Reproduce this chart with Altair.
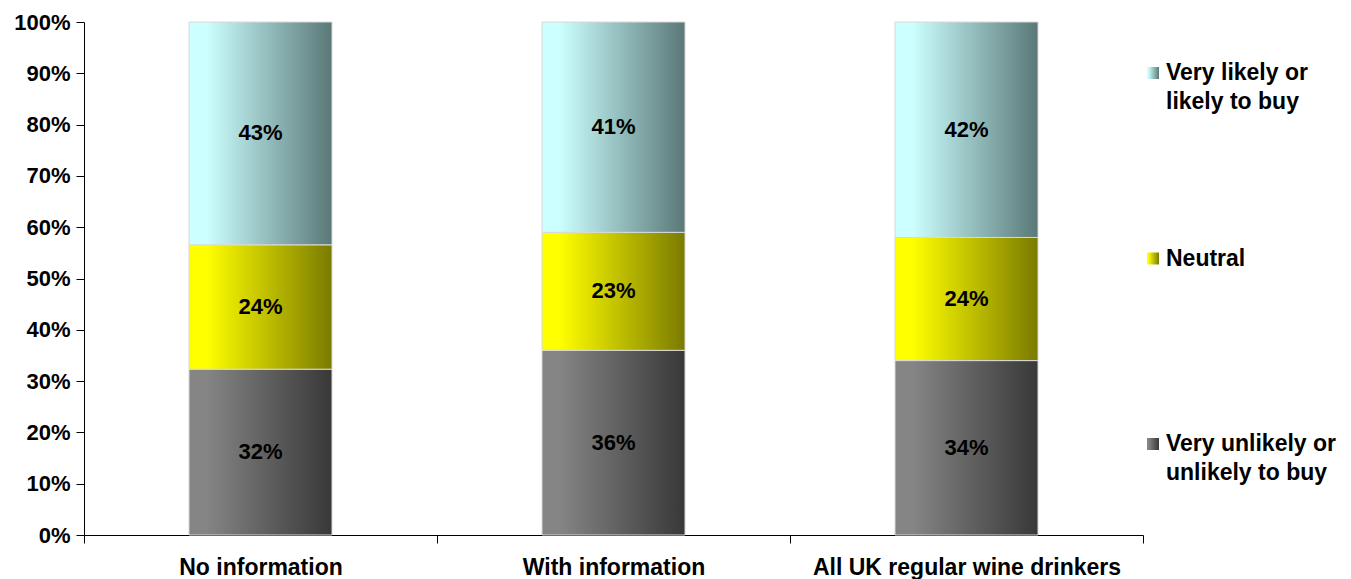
import altair as alt
import pandas as pd

# Survey groups and response shares (%)
groups = ["No information", "With information", "All UK regular wine drinkers"]
series = ["Very unlikely or unlikely to buy", "Neutral", "Very likely or likely to buy"]
unlikely = [32, 36, 34]
neutral = [24, 23, 24]
likely = [43, 41, 42]

# Legend entries, top to bottom, with their two-line labels
legend_series = ["Very likely or likely to buy", "Neutral", "Very unlikely or unlikely to buy"]
legend_labels = ["Very likely or\nlikely to buy", "Neutral", "Very unlikely or\nunlikely to buy"]

FONT = "Liberation Sans"

# Horizontal shading for each response band (light on the left, dark on the right)
def shade(light, dark):
    return alt.LinearGradient(
        gradient="linear",
        x1=0, x2=1, y1=0, y2=0,
        stops=[
            alt.GradientStop(offset=0, color=light),
            alt.GradientStop(offset=0.12, color=light),
            alt.GradientStop(offset=1, color=dark),
        ],
    )

fills = {
    "Very unlikely or unlikely to buy": shade("#858585", "#383838"),
    "Neutral": shade("#FFFF00", "#7A7A00"),
    "Very likely or likely to buy": shade("#CCFFFF", "#5A7878"),
}

rows = []
for i, g in enumerate(groups):
    for k, (s, vals) in enumerate(zip(series, [unlikely, neutral, likely])):
        rows.append({"group": g, "series": s, "order": k, "value": vals[i]})
df = pd.DataFrame(rows)

base = alt.Chart(df).transform_stack(
    stack="value",
    as_=["y0", "y1"],
    groupby=["group"],
    sort=[alt.SortField("order", order="ascending")],
    offset="normalize",
).transform_calculate(
    mid="(datum.y0 + datum.y1) / 2",
    label="datum.value + '%'",
)

x_enc = alt.X(
    "group:N",
    sort=groups,
    scale=alt.Scale(paddingInner=0, paddingOuter=0),
    axis=alt.Axis(
        title=None,
        labelAngle=0,
        labelLimit=0,
        tickBand="extent",
        tickSize=8,
        tickColor="black",
        domainColor="black",
        labelPadding=13,
        labelFont=FONT,
        labelFontSize=23,
        labelFontWeight="bold",
        labelColor="black",
    ),
)

y_axis = alt.Axis(
    title=None,
    format=".0%",
    values=[i / 10 for i in range(11)],
    grid=False,
    tickSize=8,
    tickColor="black",
    domainColor="black",
    labelPadding=6,
    labelFont=FONT,
    labelFontSize=22,
    labelFontWeight="bold",
    labelColor="black",
)

bar_layers = []
for s in series:
    bar_layers.append(
        base.transform_filter(alt.datum.series == s)
        .mark_bar(size=143, color=fills[s], stroke="#D8D8D8", strokeWidth=1)
        .encode(
            x=x_enc,
            y=alt.Y("y0:Q", scale=alt.Scale(domain=[0, 1], nice=False), axis=y_axis),
            y2="y1:Q",
        )
    )

labels = base.mark_text(
    font=FONT, fontSize=22, fontWeight="bold", color="black"
).encode(
    x=alt.X("group:N", sort=groups),
    y=alt.Y("mid:Q"),
    text="label:N",
)

main = alt.layer(*bar_layers, labels).properties(width=1059, height=513)

# Legend panel: gradient swatches with wrapped labels
leg_df = pd.DataFrame({"series": legend_series, "text": legend_labels})
leg_y = alt.Y(
    "series:N",
    sort=legend_series,
    scale=alt.Scale(type="point", padding=0.275),
    axis=None,
)
swatches = []
for s in legend_series:
    swatches.append(
        alt.Chart(leg_df)
        .transform_filter(alt.datum.series == s)
        .mark_square(size=144, color=fills[s], opacity=1)
        .encode(y=leg_y)
    )
leg_text = alt.Chart(leg_df).mark_text(
    align="left",
    baseline="alphabetic",
    dx=13,
    dy=7,
    lineBreak="\n",
    lineHeight=29,
    font=FONT,
    fontSize=23,
    fontWeight="bold",
    color="black",
).encode(y=leg_y, text="text:N")

legend = alt.layer(*swatches, leg_text).properties(width=14, height=473)

chart = (
    alt.hconcat(main, legend, spacing=2)
    .properties(
        padding={"left": 13, "top": 11, "right": 0, "bottom": 0},
        background="white",
    )
    .configure_view(strokeWidth=0, stroke="transparent")
)

chart.save("out.html", embed_options={"renderer": "svg", "actions": False})
